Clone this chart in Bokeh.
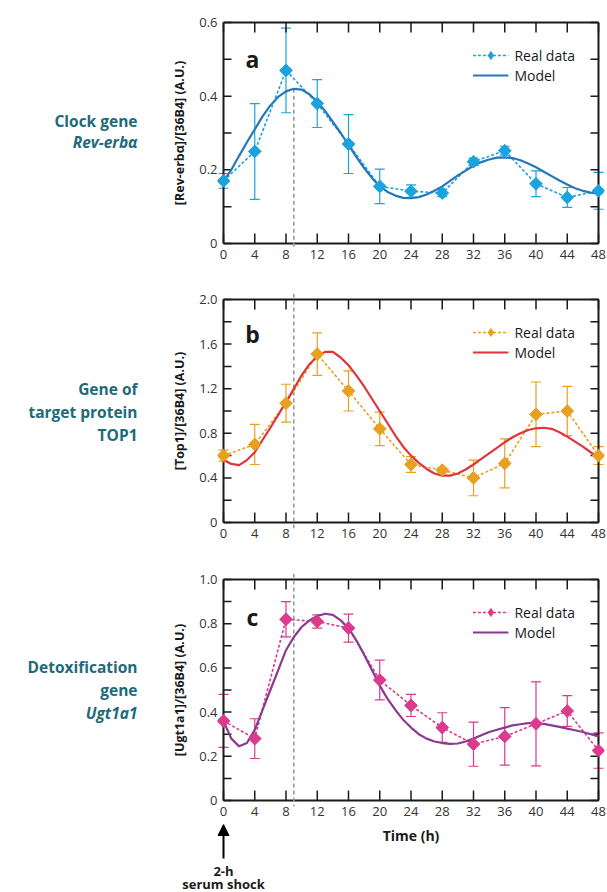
from bokeh.plotting import figure
from bokeh.layouts import column, row
from bokeh.models import (ColumnDataSource, Whisker, TeeHead, Arrow, NormalHead, Label,
                          FixedTicker, Legend, LegendItem, Range1d)
from bokeh.core.properties import value
from bokeh.embed import file_html
from bokeh.resources import INLINE
import numpy as np

# ---------------- data ----------------
times = [0, 4, 8, 12, 16, 20, 24, 28, 32, 36, 40, 44, 48]
model_times = list(range(0, 49))

rev_mean = [0.17, 0.25, 0.47, 0.38, 0.27, 0.155, 0.142, 0.137, 0.222, 0.252, 0.162, 0.125, 0.143]
rev_err = [0.02, 0.13, 0.115, 0.065, 0.08, 0.047, 0.017, 0.01, 0.01, 0.012, 0.035, 0.027, 0.05]
rev_model = [0.170, 0.200, 0.238, 0.275, 0.310, 0.345, 0.375, 0.398, 0.413, 0.420, 0.418, 0.405,
             0.385, 0.360, 0.330, 0.300, 0.268, 0.235, 0.205, 0.178, 0.155, 0.140, 0.130, 0.124,
             0.123, 0.126, 0.133, 0.143, 0.155, 0.170, 0.185, 0.198, 0.211, 0.221, 0.228, 0.233,
             0.234, 0.232, 0.226, 0.217, 0.207, 0.195, 0.183, 0.171, 0.160, 0.150, 0.143, 0.138,
             0.135]

top_mean = [0.6, 0.7, 1.07, 1.51, 1.18, 0.84, 0.52, 0.47, 0.40, 0.53, 0.97, 1.0, 0.6]
top_err = [0.05, 0.18, 0.17, 0.19, 0.18, 0.15, 0.07, 0.02, 0.16, 0.22, 0.29, 0.22, 0.08]
top_model = [0.56, 0.525, 0.515, 0.56, 0.63, 0.74, 0.85, 0.965, 1.08, 1.20, 1.32, 1.42, 1.49,
             1.53, 1.53, 1.48, 1.41, 1.32, 1.22, 1.11, 1.0, 0.89, 0.78, 0.68, 0.60, 0.535, 0.48,
             0.44, 0.42, 0.42, 0.44, 0.475, 0.52, 0.57, 0.62, 0.67, 0.72, 0.765, 0.80, 0.83,
             0.845, 0.85, 0.84, 0.81, 0.77, 0.725, 0.68, 0.63, 0.58]

ugt_mean = [0.36, 0.28, 0.82, 0.81, 0.78, 0.545, 0.43, 0.33, 0.255, 0.29, 0.347, 0.405, 0.226]
ugt_err = [0.12, 0.09, 0.08, 0.03, 0.063, 0.09, 0.05, 0.067, 0.1, 0.13, 0.19, 0.07, 0.08]
ugt_model = [0.36, 0.28, 0.245, 0.26, 0.32, 0.41, 0.50, 0.59, 0.68, 0.74, 0.785, 0.815, 0.835,
             0.845, 0.84, 0.815, 0.78, 0.725, 0.66, 0.59, 0.52, 0.46, 0.41, 0.365, 0.33, 0.30,
             0.28, 0.267, 0.26, 0.256, 0.258, 0.267, 0.28, 0.295, 0.31, 0.32, 0.33, 0.34, 0.345,
             0.35, 0.35, 0.347, 0.34, 0.333, 0.325, 0.318, 0.31, 0.30, 0.29]

x_ticks = [0, 4, 8, 12, 16, 20, 24, 28, 32, 36, 40, 44, 48]
serum_shock_time = 0
marker_time = 9

side_text = ["Clock gene", "Rev-erbα",
             "Gene of", "target protein", "TOP1",
             "Detoxification", "gene", "Ugt1a1"]
side_style = ["bold", "bold italic", "bold", "bold", "bold", "bold", "bold", "bold italic"]

FONT = "Open Sans"
INK = "#1a1a1a"
TEAL = "#1d6a78"

# ---------------- layout constants (pixels) ----------------
LABEL_W = 140
PAD = 6                     # frame extends PAD px beyond the drawn axes box
BOX_W = 375
PANEL_LEFT = 223 - LABEL_W - PAD
FRAME_W = BOX_W + 2 * PAD
PANEL_RIGHT = 3
PANEL_W = PANEL_LEFT + FRAME_W + PANEL_RIGHT
PX_PER_H = BOX_W / 48.0
Y_TICK_PX = 8
X_TICK_PX = 10


def make_panel(mean, err, model, dcol, mcol, ymax, ymajor, yminor, yover, ylabel, letter,
               letter_y, box_h, top, bottom, dash_from_peak=False):
    height = top + box_h + 2 * PAD + bottom
    xpad = PAD / PX_PER_H
    ypad = PAD * ymax / box_h
    p = figure(width=PANEL_W, height=height, x_range=Range1d(-xpad, 48 + xpad),
               y_range=Range1d(-ypad, ymax + ypad),
               min_border_left=PANEL_LEFT, min_border_right=PANEL_RIGHT, min_border_top=top,
               min_border_bottom=bottom, output_backend="svg", toolbar_location=None)
    p.xgrid.visible = False
    p.ygrid.visible = False
    p.outline_line_color = None
    p.background_fill_color = None
    p.border_fill_color = None

    xa, ya = p.below[0], p.left[0]
    xa.ticker = FixedTicker(ticks=x_ticks)
    ya.ticker = FixedTicker(ticks=ymajor, minor_ticks=yminor)
    for ax in [xa, ya]:
        ax.axis_line_color = None
        ax.major_tick_line_color = None
        ax.minor_tick_line_color = None
        ax.major_tick_out = 0
        ax.minor_tick_out = 0
        ax.major_tick_in = 0
        ax.minor_tick_in = 0
        ax.major_label_text_font = FONT
        ax.major_label_text_font_size = "13px"
        ax.major_label_text_color = "#333333"
    xa.major_label_standoff = 0
    ya.major_label_standoff = 0
    ya.major_label_overrides = yover
    ya.axis_label = ylabel
    ya.axis_label_text_font = FONT
    ya.axis_label_text_font_style = "bold"
    ya.axis_label_text_font_size = "12.5px"
    ya.axis_label_text_color = INK
    ya.axis_label_standoff = 8

    # axes box: four edges
    p.segment(x0=[0, 0, 0, 48], y0=[0, ymax, 0, 0], x1=[48, 48, 0, 48],
              y1=[0, ymax, ymax, ymax], line_color=INK, line_width=2)

    # inward tick marks on all four sides
    yt = list(ymajor) + list(yminor)
    dx = Y_TICK_PX / PX_PER_H
    dy = X_TICK_PX * ymax / box_h
    tx0 = [0] * len(yt) + [48] * len(yt) + list(x_ticks) + list(x_ticks)
    ty0 = yt + yt + [0] * len(x_ticks) + [ymax] * len(x_ticks)
    tx1 = [dx] * len(yt) + [48 - dx] * len(yt) + list(x_ticks) + list(x_ticks)
    ty1 = yt + yt + [dy] * len(x_ticks) + [ymax - dy] * len(x_ticks)
    p.segment(x0=tx0, y0=ty0, x1=tx1, y1=ty1, line_color=INK, line_width=1.5)

    src = ColumnDataSource(dict(t=times, m=mean,
                                lo=[a - b for a, b in zip(mean, err)],
                                hi=[a + b for a, b in zip(mean, err)]))
    msrc = ColumnDataSource(dict(t=model_times, m=model))

    # dashed vertical marker line
    y_top = max(model) if dash_from_peak else ymax + ypad
    p.segment(x0=[marker_time], y0=[y_top], x1=[marker_time], y1=[-ypad],
              line_color="#9a9a9a", line_width=1.6, line_dash="4 3")

    wh = Whisker(source=src, base="t", upper="hi", lower="lo", line_color=dcol,
                 line_width=1.2,
                 upper_head=TeeHead(size=10, line_color=dcol, line_width=1.2),
                 lower_head=TeeHead(size=10, line_color=dcol, line_width=1.2))
    p.add_layout(wh)

    r_dl = p.line("t", "m", source=src, line_color=dcol, line_width=1.6, line_dash="3 2")
    r_model = p.line("t", "m", source=msrc, line_color=mcol, line_width=2.2)
    p.scatter("t", "m", source=src, marker="square", angle=np.pi / 4, size=9,
              fill_color=dcol, line_color=dcol)
    r_leg = p.scatter("t", "m", source=src, marker="diamond", size=14,
                      fill_color=dcol, line_color=dcol, visible=False)

    leg = Legend(items=[LegendItem(label="Real data", renderers=[r_dl, r_leg]),
                        LegendItem(label="Model", renderers=[r_model])],
                 location="top_right", margin=23 + PAD, padding=0, spacing=0,
                 glyph_width=36, glyph_height=20, label_height=20, label_standoff=6,
                 border_line_color=None, background_fill_alpha=0,
                 label_text_font=FONT, label_text_font_size="14px",
                 label_text_color=INK)
    p.add_layout(leg)

    p.add_layout(Label(x=3.7, y=letter_y, text=letter, text_font=FONT,
                       text_font_style="bold", text_font_size="23px", text_color=INK,
                       text_align="center", text_baseline="middle"))
    return p


pa = make_panel(rev_mean, rev_err, rev_model, "#1aa3dc", "#2677b7", 0.6,
                [0, 0.2, 0.4, 0.6], [0.1, 0.3, 0.5], {0: "0"},
                "[Rev-erbα]/[36B4] (A.U.)", "a", 0.5, 221, 16, 22, dash_from_peak=True)

pb = make_panel(top_mean, top_err, top_model, "#e8a020", "#e0343c", 2.0,
                [0, 0.4, 0.8, 1.2, 1.6, 2.0], [0.2, 0.6, 1.0, 1.4, 1.8],
                {0: "0", 2.0: "2.0"},
                "[Top1]/[36B4] (A.U.)", "b", 1.695, 223, 22, 22)

pc = make_panel(ugt_mean, ugt_err, ugt_model, "#dc3a8e", "#8b3a8f", 1.0,
                [0, 0.2, 0.4, 0.6, 0.8, 1.0], [0.1, 0.3, 0.5, 0.7, 0.9],
                {0: "0", 1.0: "1.0"},
                "[Ugt1a1]/[36B4] (A.U.)", "c", 0.829, 221, 23, 18)

panels_h = pa.height + pb.height + pc.height

# ---------------- left column with the gene descriptions ----------------
side_y = [120, 141, 388, 411, 434, 666, 689, 712]
lf = figure(width=LABEL_W, height=panels_h, x_range=Range1d(0, LABEL_W),
            y_range=Range1d(panels_h, 0), min_border=0, x_axis_type=None, y_axis_type=None,
            output_backend="svg", toolbar_location=None)
lf.grid.visible = False
lf.outline_line_color = None
lf.border_fill_color = None
lf.background_fill_color = None
lf.text(x=[LABEL_W - 3] * len(side_text), y=side_y, text=side_text,
        text_font=value(FONT), text_font_style=side_style, text_font_size="15.5px",
        text_color=TEAL, text_align="right", text_baseline="middle")

# ---------------- bottom strip: axis title and serum shock marker ----------------
BOT_H = 892 - panels_h
TOTAL_W = LABEL_W + PANEL_W
left_h = -223 / PX_PER_H
right_h = left_h + TOTAL_W / PX_PER_H
bf = figure(width=TOTAL_W, height=BOT_H, x_range=Range1d(left_h, right_h),
            y_range=Range1d(BOT_H, 0), min_border=0, x_axis_type=None, y_axis_type=None,
            output_backend="svg", toolbar_location=None)
bf.grid.visible = False
bf.outline_line_color = None
bf.border_fill_color = None
bf.background_fill_color = None
bf.text(x=[24], y=[11], text=["Time (h)"], text_font=value(FONT), text_font_style="bold",
        text_font_size="14px", text_color=INK, text_align="center", text_baseline="middle")
bf.add_layout(Arrow(end=NormalHead(size=11, fill_color="black", line_color="black"),
                    x_start=serum_shock_time, y_start=34, x_end=serum_shock_time, y_end=0,
                    line_color="black", line_width=2))
bf.text(x=[serum_shock_time, serum_shock_time], y=[46, 59], text=["2-h", "serum shock"],
        text_font=value(FONT), text_font_style="bold", text_font_size="13px",
        text_color=INK, text_align="center", text_baseline="middle")

layout = column(row(lf, column(pa, pb, pc, spacing=0), spacing=0), bf, spacing=0)
open("out.html", "w").write(file_html(layout, INLINE))
